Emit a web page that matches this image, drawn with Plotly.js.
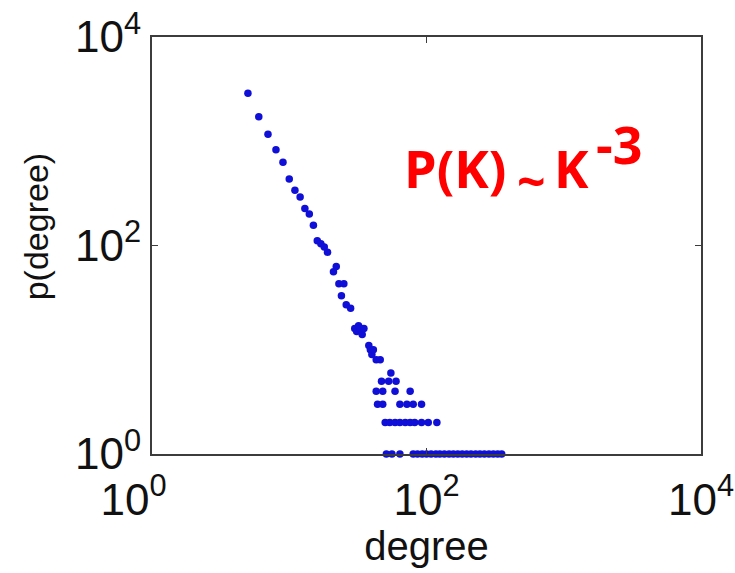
<!DOCTYPE html>
<html>
<head>
<meta charset="utf-8">
<script src="https://cdn.plot.ly/plotly-3.0.1.min.js"></script>
<style>
  html, body { margin: 0; padding: 0; background: #fff; }
  #chart { width: 735px; height: 573px; }
</style>
</head>
<body>
<div id="chart"></div>
<script>
// Degree distribution of a network, log-log axes
const degree = [5, 6, 7, 8, 9, 10, 11, 12, 13, 14, 15,
  16, 17, 18, 19, 21, 22, 23, 24, 25, 26, 28,
  30, 31, 32, 33, 34, 35, 38, 39, 40, 41, 43, 46,
  55, 47, 53, 60, 43, 48, 59, 76,
  44, 48, 64, 72, 80, 92,
  50, 54, 59, 64, 70, 76, 82, 92, 103, 119,
  51, 56, 64, 80, 86, 93, 100, 108, 117, 125, 135, 146, 157, 169,
  182, 196, 211, 228, 245, 264, 285, 307, 330, 353];
const count = [2884, 1722, 1167, 830, 629, 434, 339, 292, 227, 201, 156,
  111, 104, 97, 86, 56, 63, 43, 33, 43, 27, 25,
  16, 15, 17, 16, 14, 16, 11, 10, 9, 10, 8, 8,
  6, 5, 5, 5, 4, 4, 4, 4,
  3, 3, 3, 3, 3, 3,
  2, 2, 2, 2, 2, 2, 2, 2, 2, 2,
  1, 1, 1, 1, 1, 1, 1, 1, 1, 1, 1, 1, 1, 1,
  1, 1, 1, 1, 1, 1, 1, 1, 1, 1];

const tickVals = [1, 100, 10000];
const xTickText = ['10<sup>0</sup>&nbsp;&nbsp;&nbsp;', '10<sup>2</sup>', '10<sup>4</sup>'];
const yTickText = ['10<sup>0</sup>', '10<sup>2</sup>', '10<sup>4</sup>'];

const frame = '#3c3c3c';
const textFont = 'Liberation Sans, Arial, sans-serif';
const axisCommon = {
  type: 'log',
  range: [0, 4],
  tickvals: tickVals,
  ticks: 'inside',
  ticklen: 6,
  tickwidth: 1,
  tickcolor: frame,
  showline: true,
  linecolor: frame,
  linewidth: 2,
  mirror: 'ticks',
  showgrid: false,
  zeroline: false,
  tickfont: { family: textFont, size: 44, color: '#111' }
};

const trace = {
  x: degree,
  y: count,
  type: 'scatter',
  mode: 'markers',
  marker: { color: 'rgb(15,15,215)', size: 7.5 },
  cliponaxis: false,
  hoverinfo: 'x+y'
};

const labelFont = { family: 'Open Sans, Lato, sans-serif', size: 52, color: '#ff0000', weight: 'bold' };

const layout = {
  width: 735,
  height: 573,
  margin: { l: 152, r: 34, t: 37, b: 119 },
  paper_bgcolor: '#fff',
  plot_bgcolor: '#fff',
  showlegend: false,
  xaxis: Object.assign({}, axisCommon, {
    ticktext: xTickText,
    ticklabelstandoff: 6,
    title: { text: 'degree', font: { family: textFont, size: 40, color: '#111' }, standoff: 4 }
  }),
  yaxis: Object.assign({}, axisCommon, {
    ticktext: yTickText,
    title: { text: '&nbsp;&nbsp;&nbsp;&nbsp;p(degree)', font: { family: textFont, size: 34, color: '#111' }, standoff: 16 }
  }),
  annotations: [
    { xref: 'paper', yref: 'paper', x: 0.456, y: 0.686, xanchor: 'left', yanchor: 'middle',
      text: 'P(K)', showarrow: false, font: labelFont },
    { xref: 'paper', yref: 'paper', x: 0.662, y: 0.655, xanchor: 'left', yanchor: 'middle',
      text: '~', showarrow: false, font: Object.assign({}, labelFont, { size: 50 }) },
    { xref: 'paper', yref: 'paper', x: 0.728, y: 0.686, xanchor: 'left', yanchor: 'middle',
      text: 'K', showarrow: false, font: labelFont },
    { xref: 'paper', yref: 'paper', x: 0.806, y: 0.745, xanchor: 'left', yanchor: 'middle',
      text: '-3', showarrow: false, font: labelFont }
  ]
};

Plotly.newPlot('chart', [trace], layout, { displayModeBar: false, staticPlot: true });
</script>
</body>
</html>
